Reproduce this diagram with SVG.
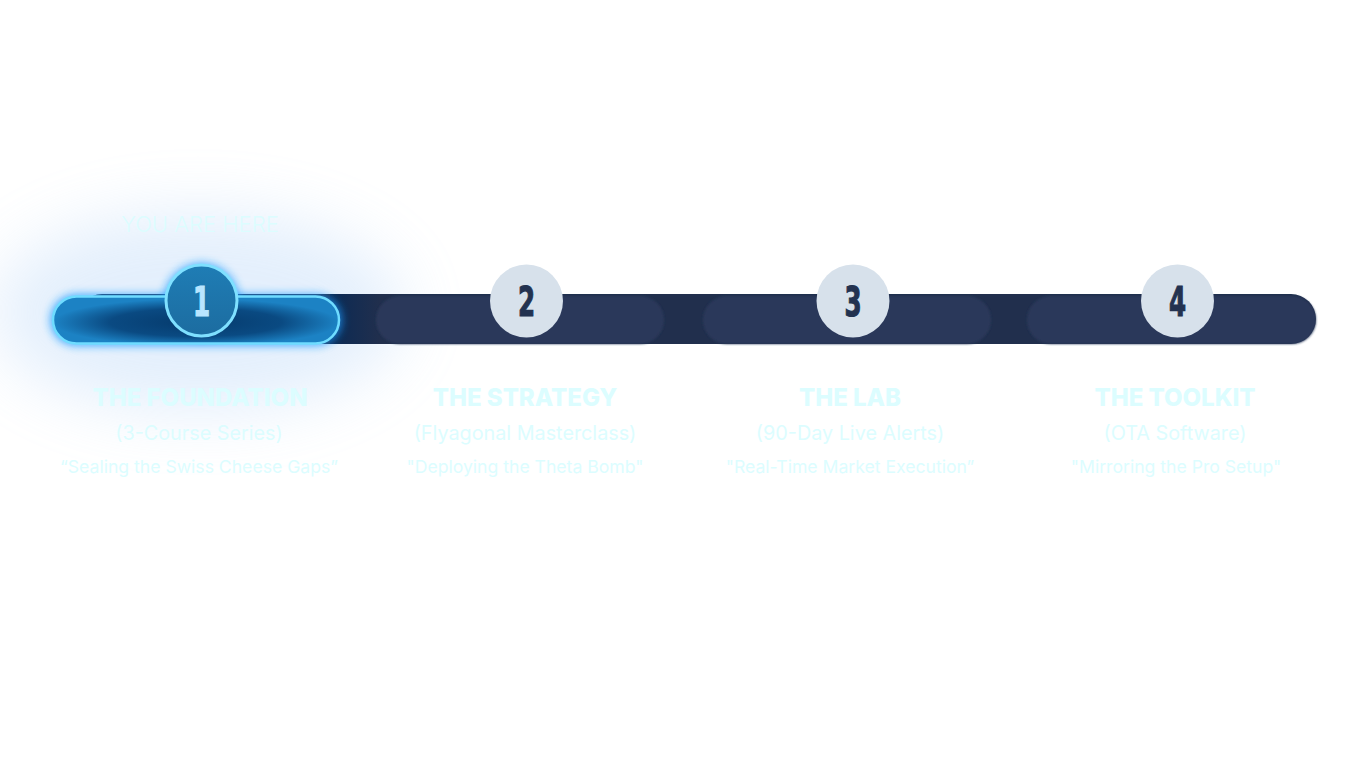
<svg xmlns="http://www.w3.org/2000/svg" width="1366" height="768" viewBox="0 0 1366 768">
<defs>
<style>
.t{font-family:Inter,"Open Sans",sans-serif;fill:#dcfdff;text-anchor:middle}
.title{font-size:24px;font-weight:800}
.sub{font-size:19.8px;font-weight:400}
.quote{font-size:17.6px;font-weight:400}
.here{font-size:22px;font-weight:300}
.pill{fill:#29395a}
.disc{fill:#d7e1eb}
.num{font-family:"DejaVu Sans",sans-serif;font-weight:700;font-size:41px;fill:#233250;stroke:#233250;stroke-width:1.2;text-anchor:middle}
</style>
<filter id="halo" x="-50%" y="-100%" width="200%" height="300%"><feGaussianBlur stdDeviation="32"/></filter>
<filter id="glow" x="-20%" y="-60%" width="140%" height="220%"><feGaussianBlur stdDeviation="4.5"/></filter>
<filter id="soft" x="-10%" y="-30%" width="120%" height="160%"><feGaussianBlur stdDeviation="1.2"/></filter>
<radialGradient id="pg" cx="0.5" cy="0.55" r="0.5">
<stop offset="0" stop-color="#053a6c"/>
<stop offset="0.6" stop-color="#0a4a82"/>
<stop offset="1" stop-color="#1c82c4"/>
</radialGradient>
<linearGradient id="cg" x1="0" y1="0" x2="0" y2="1">
<stop offset="0" stop-color="#1f7db5"/>
<stop offset="1" stop-color="#1c6ca0"/>
</linearGradient>
<linearGradient id="tg" x1="0" y1="0" x2="1" y2="0">
<stop offset="0" stop-color="#0a2a55"/>
<stop offset="1" stop-color="#212f4d"/>
</linearGradient>
</defs>
<rect width="1366" height="768" fill="#ffffff"/>
<g id="halo-glow">
<ellipse cx="198" cy="312" rx="205" ry="100" fill="#9cc6f5" opacity="0.28" filter="url(#halo)"/>
</g>
<g id="connectors">
<rect x="77" y="294" width="1239" height="50" rx="25" fill="#212f4d"/>
<rect x="330" y="294" width="50" height="50" fill="url(#tg)"/>
</g>
<g id="step1-glow">
<rect x="50" y="294" width="292" height="52" rx="26" fill="#1a9bff" opacity="0.75" filter="url(#glow)"/>
<circle cx="201.5" cy="300.5" r="38" fill="#1a9bff" opacity="0.7" filter="url(#glow)"/>
</g>
<g id="step1">
<text class="t here" x="200" y="232">YOU ARE HERE</text>
<rect x="53" y="296.5" width="286" height="47" rx="23.5" fill="url(#pg)" stroke="#6fdcff" stroke-width="2.5"/>
<circle cx="201.5" cy="300.5" r="35.5" fill="url(#cg)" stroke="#7fe0ff" stroke-width="3"/>
<text class="num" transform="translate(201.5 316) scale(0.6 1)" style="fill:#b9e5ff;stroke:#b9e5ff">1</text>
<text class="t title" x="200" y="406">THE FOUNDATION</text>
<text class="t sub" x="199" y="440">(3-Course Series)</text>
<text class="t quote" x="199" y="473">“Sealing the Swiss Cheese Gaps”</text>
</g>
<g id="step2">
<rect class="pill" x="376" y="296" width="288" height="48" rx="24" filter="url(#soft)"/>
<circle class="disc" cx="526.5" cy="301" r="36.5"/>
<text class="num" transform="translate(526.5 316) scale(0.6 1)">2</text>
<text class="t title" x="525" y="406">THE STRATEGY</text>
<text class="t sub" x="525" y="440">(Flyagonal Masterclass)</text>
<text class="t quote" x="525" y="473">"Deploying the Theta Bomb"</text>
</g>
<g id="step3">
<rect class="pill" x="703" y="296" width="288" height="48" rx="24" filter="url(#soft)"/>
<circle class="disc" cx="853" cy="301" r="36.5"/>
<text class="num" transform="translate(853 316) scale(0.6 1)">3</text>
<text class="t title" x="850" y="406">THE LAB</text>
<text class="t sub" x="850" y="440">(90-Day Live Alerts)</text>
<text class="t quote" x="850" y="473">"Real-Time Market Execution”</text>
</g>
<g id="step4">
<rect class="pill" x="1027" y="296" width="289" height="48" rx="24" filter="url(#soft)"/>
<circle class="disc" cx="1177.5" cy="301" r="36.5"/>
<text class="num" transform="translate(1177.5 316) scale(0.6 1)">4</text>
<text class="t title" x="1175" y="406">THE TOOLKIT</text>
<text class="t sub" x="1175" y="440">(OTA Software)</text>
<text class="t quote" x="1176" y="473">"Mirroring the Pro Setup"</text>
</g>
</svg>
